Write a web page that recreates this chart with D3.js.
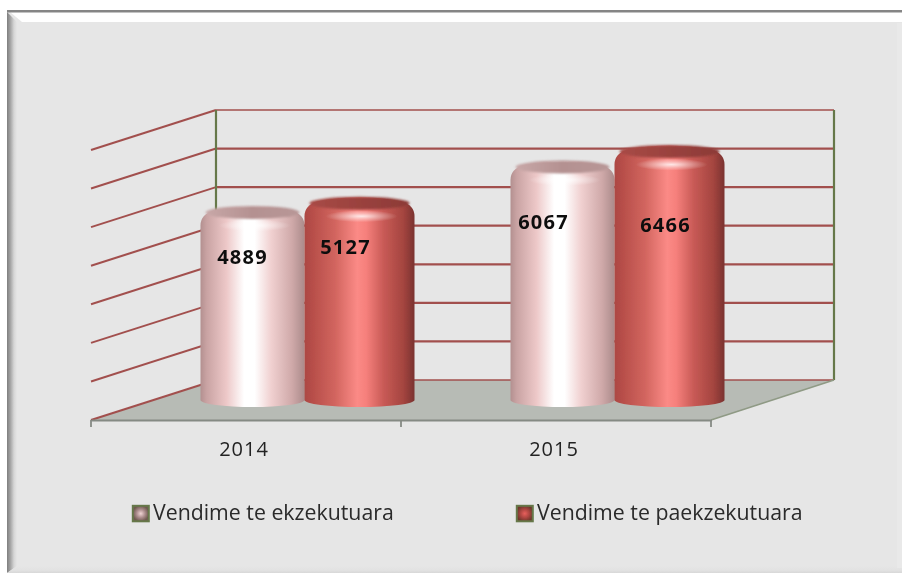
<!DOCTYPE html>
<html><head><meta charset="utf-8">
<script src="https://cdn.jsdelivr.net/npm/d3@7/dist/d3.min.js"></script>
<style>html,body{margin:0;padding:0;background:#fff}svg{display:block}text{font-family:"Open Sans",sans-serif}</style>
</head><body><svg id="c" width="902" height="573"></svg>
<script>
const categories = ["2014", "2015"];
const seriesNames = ["Vendime te ekzekutuara", "Vendime te paekzekutuara"];
const executed = [4889, 6067];
const unexecuted = [5127, 6466];
const gridValues = [0, 1000, 2000, 3000, 4000, 5000, 6000, 7000];

const svg = d3.select("#c");
const defs = svg.append("defs");
const W = 902, H = 573;

function linGrad(id, stops, x2 = "100%", y2 = "0%") {
  const g = defs.append("linearGradient").attr("id", id).attr("x1", "0%").attr("y1", "0%").attr("x2", x2).attr("y2", y2);
  stops.forEach(s => g.append("stop").attr("offset", s[0]).attr("stop-color", s[1]));
}
function radGrad(id, stops) {
  const g = defs.append("radialGradient").attr("id", id);
  stops.forEach(s => g.append("stop").attr("offset", s[0]).attr("stop-color", s[1]).attr("stop-opacity", s[2] === undefined ? 1 : s[2]));
}
linGrad("bodyA", [[0, "#b39090"], [.06, "#c9a3a3"], [.25, "#edc8c8"], [.42, "#fff"], [.52, "#fff"], [.68, "#f0d0d0"], [.88, "#cfa9a9"], [1, "#ab8b8b"]]);
linGrad("bodyB", [[0, "#ac4843"], [.08, "#b84f4a"], [.28, "#d2655f"], [.48, "#fb8a86"], [.56, "#f6807c"], [.72, "#c85a56"], [.9, "#a4453f"], [1, "#7a3230"]]);
linGrad("capA", [[0, "#c8a8a8"], [.5, "#b49191"], [1, "#b89797"]]);
linGrad("capB", [[0, "#a84a46"], [.5, "#9a423e"], [1, "#8c3a37"]]);
linGrad("leftBevel", [[0, "#7e7e7e"], [.35, "#a6a6a6"], [.7, "#d6d6d6"], [1, "#e6e6e6"]]);
linGrad("botBevel", [[0, "#e6e6e6"], [.6, "#e2e2e2"], [1, "#d8d8d8"]], "0%", "100%");
radGrad("glow", [[0, "#fff", .8], [.45, "#fff", .4], [1, "#fff", 0]]);
radGrad("swA", [[0, "#f0d4d4"], [.55, "#a98a8a"], [1, "#6f5a50"]]);
radGrad("swB", [[0, "#e8605c"], [.6, "#a8443f"], [1, "#70392c"]]);
const soft = defs.append("filter").attr("id", "soft").attr("x", "-5%").attr("y", "-5%").attr("width", "110%").attr("height", "110%");
soft.append("feGaussianBlur").attr("stdDeviation", 0.5);
const capBlur = defs.append("filter").attr("id", "capBlur").attr("x", "-10%").attr("y", "-50%").attr("width", "120%").attr("height", "200%");
capBlur.append("feGaussianBlur").attr("stdDeviation", 1.2);

// frame
const frame = svg.append("g");
frame.append("rect").attr("x", 7).attr("y", 10).attr("width", W - 7).attr("height", H - 10).attr("fill", "#e6e6e6");
frame.append("polygon").attr("points", "10,12 902,12 902,22 22,22").attr("fill", "#fff");
frame.append("rect").attr("x", 7).attr("y", 10).attr("width", W - 7).attr("height", 2.5).attr("fill", "#858585");
frame.append("polygon").attr("points", "7,12 17,22 17,566 7,573").attr("fill", "url(#leftBevel)");
frame.append("polygon").attr("points", "17,566 902,566 902,573 7,573").attr("fill", "url(#botBevel)");
frame.append("rect").attr("x", 897).attr("y", 23).attr("width", 5).attr("height", 545).attr("fill", "#e9e9e9");

// scales
const x = d3.scaleBand().domain(categories).range([91, 711]);
const y = d3.scaleLinear().domain([0, 7000]).range([380, 110]);
const depthX = 125, depthY = 40;

const plot = svg.append("g").attr("filter", "url(#soft)");
const backL = x.range()[0] + depthX, backR = x.range()[1] + 123;

// floor
plot.append("polygon")
  .attr("points", [[x.range()[0], y(0) + depthY], [backL, y(0)], [backR, y(0)], [x.range()[1], y(0) + depthY]].join(" "))
  .attr("fill", "#b7bbb5");

// gridlines: back wall + side wall
const gridColor = "#a2504e";
plot.selectAll("line.grid").data(gridValues).join("line").attr("class", "grid")
  .attr("x1", backL).attr("x2", backR).attr("y1", d => y(d)).attr("y2", d => y(d))
  .attr("stroke", gridColor).attr("stroke-width", d => d === 0 || d === 7000 ? 1.5 : 2.2);
plot.selectAll("line.side").data(gridValues).join("line").attr("class", "side")
  .attr("x1", x.range()[0]).attr("x2", backL).attr("y1", d => y(d) + depthY).attr("y2", d => y(d))
  .attr("stroke", gridColor).attr("stroke-width", 2);
// wall verticals
[backL, backR].forEach(px => plot.append("line").attr("x1", px).attr("x2", px).attr("y1", y(7000)).attr("y2", y(0))
  .attr("stroke", "#66784a").attr("stroke-width", 2.2));
plot.append("line").attr("x1", x.range()[1]).attr("x2", backR).attr("y1", y(0) + depthY).attr("y2", y(0))
  .attr("stroke", "#8f9a85").attr("stroke-width", 1.6);

// front axis
const axisG = plot.append("g").attr("transform", `translate(0,${y(0) + depthY})`)
  .call(d3.axisBottom(x).tickSize(0).tickPadding(22));
axisG.select(".domain").attr("stroke", "#858a84").attr("stroke-width", 2);
axisG.selectAll("text").attr("font-size", 20).attr("fill", "#222").style("letter-spacing", "1px")
  .attr("dx", -2).style('font-family', '"Open Sans",sans-serif');
[...categories.map(c => x(c)), x.range()[1]].forEach(px =>
  axisG.append("line").attr("x1", px).attr("x2", px).attr("y1", 0).attr("y2", 7).attr("stroke", "#858a84").attr("stroke-width", 1.8));

// cylinders
const groupShift = depthX / 2 - 4, ry = 7;
const barDefs = [
  { key: "A", values: executed, width: 104, start: c => c - 104 },
  { key: "B", values: unexecuted, width: 110, start: c => c }
];
const labelNudges = { A: [[-10, 45.5], [-19, 56], [0, 0]], B: [[-14, 44.5], [-4, 74]] };
const bars = [];
barDefs.forEach(s => categories.forEach((c, i) => {
  const center = x(c) + x.bandwidth() / 2 + groupShift;
  bars.push({ key: s.key, value: s.values[i], i, x0: s.start(center), w: s.width });
}));
const barG = plot.selectAll("g.bar").data(bars).join("g").attr("class", "bar");
function cylPath(d) {
  const x0 = d.x0, x1 = d.x0 + d.w, yt = y(d.value) + depthY / 2, yb = y(0) + depthY / 2, rx = d.w / 2;
  return `M${x0},${yb} L${x0},${yt + 14} Q${x0},${yt + 3} ${x0 + 13},${yt - 1}` +
    ` Q${x0 + rx},${yt - 9} ${x1 - 13},${yt - 1} Q${x1},${yt + 3} ${x1},${yt + 14} L${x1},${yb}` +
    ` A${rx},${ry} 0 0 1 ${x0},${yb} Z`;
}
barG.append("path").attr("d", cylPath).attr("fill", d => `url(#body${d.key})`);
barG.append("ellipse").attr("cx", d => d.x0 + d.w / 2).attr("cy", d => y(d.value) + depthY / 2 + 1)
  .attr("rx", d => d.w / 2 - 5).attr("ry", 6.5).attr("fill", d => `url(#cap${d.key})`).attr("filter", "url(#capBlur)");
barG.append("ellipse").attr("cx", d => d.x0 + d.w / 2 + 2).attr("cy", d => y(d.value) + depthY / 2 + 14)
  .attr("rx", 36).attr("ry", 6).attr("fill", "url(#glow)");
barG.append("text")
  .attr("x", d => d.x0 + d.w / 2 + labelNudges[d.key][d.i][0])
  .attr("y", d => y(d.value) + depthY / 2 + labelNudges[d.key][d.i][1])
  .attr("text-anchor", "middle").attr("dominant-baseline", "central")
  .attr("font-size", 20).attr("font-weight", 700).attr("fill", "#111").style("letter-spacing", "1.2px")
  .text(d => d.value);

// legend
const legendX = [132, 516];
const lg = plot.selectAll("g.leg").data(seriesNames).join("g").attr("class", "leg")
  .attr("transform", (d, i) => `translate(${legendX[i]},505)`);
lg.append("rect").attr("x", .8).attr("y", .8).attr("width", 16).attr("height", 15.5)
  .attr("fill", (d, i) => i ? "url(#swB)" : "url(#swA)").attr("stroke", "#66784a").attr("stroke-width", 2);
lg.append("text").attr("x", 21).attr("y", 15).attr("font-size", 21.3).attr("fill", "#2a2a2a").text(d => d);
</script></body></html>
